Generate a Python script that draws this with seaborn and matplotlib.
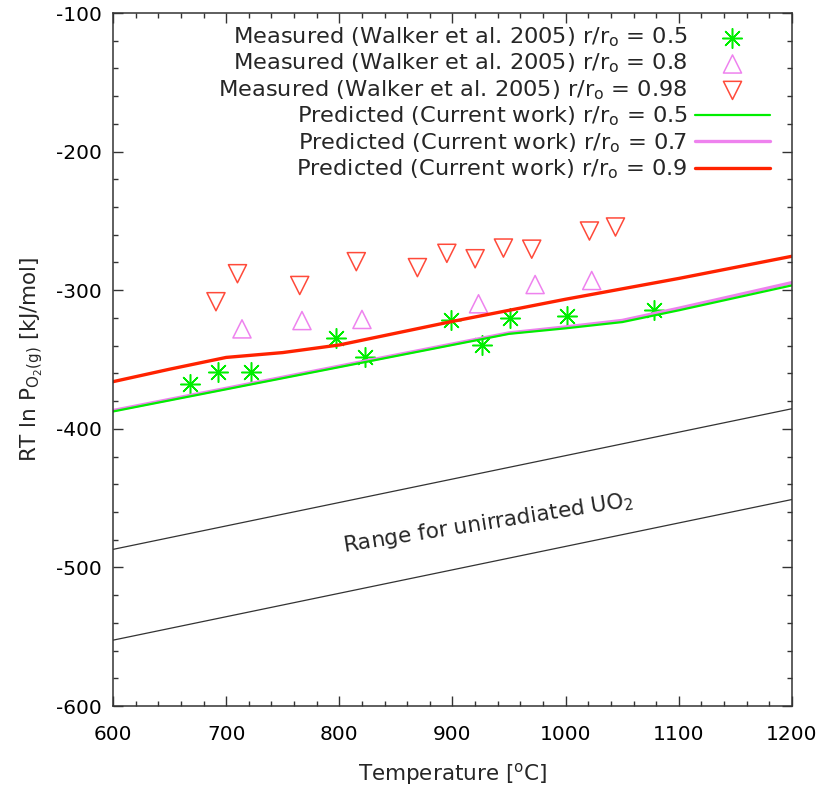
import numpy as np
import pandas as pd
import matplotlib
matplotlib.use("Agg")
import matplotlib.pyplot as plt
import seaborn as sns

# =============================
# Data
# =============================
# Measured (Walker et al. 2005)
t_m05 = [668, 693, 722, 797, 823, 899, 926, 951, 1001, 1078]
g_m05 = [-367.7, -358.8, -358.8, -334.7, -348.4, -321.5, -339.5, -319.8, -318.6, -314.3]

t_m08 = [714, 767, 820, 923, 973, 1023]
g_m08 = [-327.9, -321.9, -321.1, -309.8, -295.9, -293.0]

t_m098 = [691, 710, 765, 815, 869, 895, 920, 945, 970, 1021, 1044]
g_m098 = [-308.3, -288.1, -296.6, -279.4, -283.7, -273.4, -277.3, -269.6, -270.4, -257.3, -254.4]

# Predicted (current work)
t_pred = [600, 650, 700, 750, 800, 850, 900, 950, 1000, 1050, 1100, 1150, 1200]
g_p05 = [-387.5, -379.5, -371.5, -363.5, -355.5, -347.5, -339.5, -331.5, -327.5, -323.0, -314.5, -305.5, -296.5]
g_p07 = [-386.8, -378.8, -370.8, -362.8, -354.8, -346.8, -338.8, -330.8, -326.5, -321.8, -313.0, -303.8, -294.5]
g_p09 = [-366.0, -357.0, -348.5, -345.0, -339.5, -331.0, -322.5, -314.5, -306.5, -299.0, -291.5, -283.5, -275.5]

# Range for unirradiated UO2
t_range = [600, 1200]
g_upper = [-487.0, -385.5]
g_lower = [-552.5, -451.0]

label_r = r'r/r$_\mathrm{o}$'

# =============================
# Plot
# =============================
sns.set_style("ticks")
plt.rcParams['font.family'] = ['DejaVu Sans']
plt.rcParams['mathtext.fontset'] = 'dejavusans'
plt.rcParams['axes.unicode_minus'] = False
plt.rcParams['xtick.direction'] = 'in'
plt.rcParams['ytick.direction'] = 'in'

fig = plt.figure(figsize=(8.24, 7.93), dpi=100)
ax = fig.add_axes([0.1371, 0.1097, 0.8241, 0.8739])

green = '#00ee00'
violet = '#ee82ee'
red = '#ff2200'
red_m = '#ff4a3a'
txt = 15.5

sns.scatterplot(x=t_m05, y=g_m05, ax=ax, marker=(8, 2, 0), s=200, color=green,
                linewidth=1.1, edgecolor=green,
                label='Measured (Walker et al. 2005) ' + label_r + ' = 0.5')
sns.scatterplot(x=t_m08, y=g_m08, ax=ax, marker='^', s=170, facecolor='none',
                edgecolor=violet, linewidth=1.1,
                label='Measured (Walker et al. 2005) ' + label_r + ' = 0.8')
sns.scatterplot(x=t_m098, y=g_m098, ax=ax, marker='v', s=170, facecolor='none',
                edgecolor=red_m, linewidth=1.1,
                label='Measured (Walker et al. 2005) ' + label_r + ' = 0.98')

sns.lineplot(x=t_pred, y=g_p07, ax=ax, color=violet, linewidth=2.4,
             label='Predicted (Current work) ' + label_r + ' = 0.7')
sns.lineplot(x=t_pred, y=g_p05, ax=ax, color=green, linewidth=1.6,
             label='Predicted (Current work) ' + label_r + ' = 0.5')
sns.lineplot(x=t_pred, y=g_p09, ax=ax, color=red, linewidth=2.4,
             label='Predicted (Current work) ' + label_r + ' = 0.9')

sns.lineplot(x=t_range, y=g_upper, ax=ax, color='#333333', linewidth=0.9)
sns.lineplot(x=t_range, y=g_lower, ax=ax, color='#333333', linewidth=0.9)

ax.text(932, -468, r'Range for unirradiated UO$_2$', fontsize=txt,
        rotation=9, ha='center', va='center', rotation_mode='anchor')

ax.set_xlim(600, 1200)
ax.set_ylim(-600, -100)
ax.set_xticks(np.arange(600, 1201, 100))
ax.set_yticks(np.arange(-600, -99, 100))
ax.set_xticks(np.arange(600, 1201, 20), minor=True)
ax.set_yticks(np.arange(-600, -99, 20), minor=True)
ax.tick_params(which='both', top=True, right=True, labelsize=14.5,
               colors='#333333', labelcolor='black')
ax.tick_params(which='major', length=7, width=1)
ax.tick_params(which='minor', length=3.6, width=1)
ax.tick_params(axis='x', pad=14)
ax.tick_params(axis='y', pad=8)
for s in ax.spines.values():
    s.set_linewidth(1.1)
    s.set_color('#333333')

ax.set_xlabel(r'Temperature [$^\mathrm{o}$C]', fontsize=txt, labelpad=12)
ax.set_ylabel(r'RT ln P$_{\mathrm{O_2(g)}}$ [kJ/mol]', fontsize=txt, labelpad=8)

# legend in gnuplot style: right aligned text, sample on the right
handles, labels = ax.get_legend_handles_labels()
order = [0, 1, 2, 4, 3, 5]
handles = [handles[i] for i in order]
labels = [labels[i] for i in order]
leg = ax.legend(handles, labels, loc='upper right', bbox_to_anchor=(0.967, 0.982),
                frameon=False, markerfirst=False, fontsize=16.2,
                handlelength=3.3, labelspacing=0.125, handletextpad=0.35,
                borderaxespad=0, borderpad=0)
leg._legend_box._children[-1]._children[0].align = 'right'

fig.savefig('out.png', dpi=100)
